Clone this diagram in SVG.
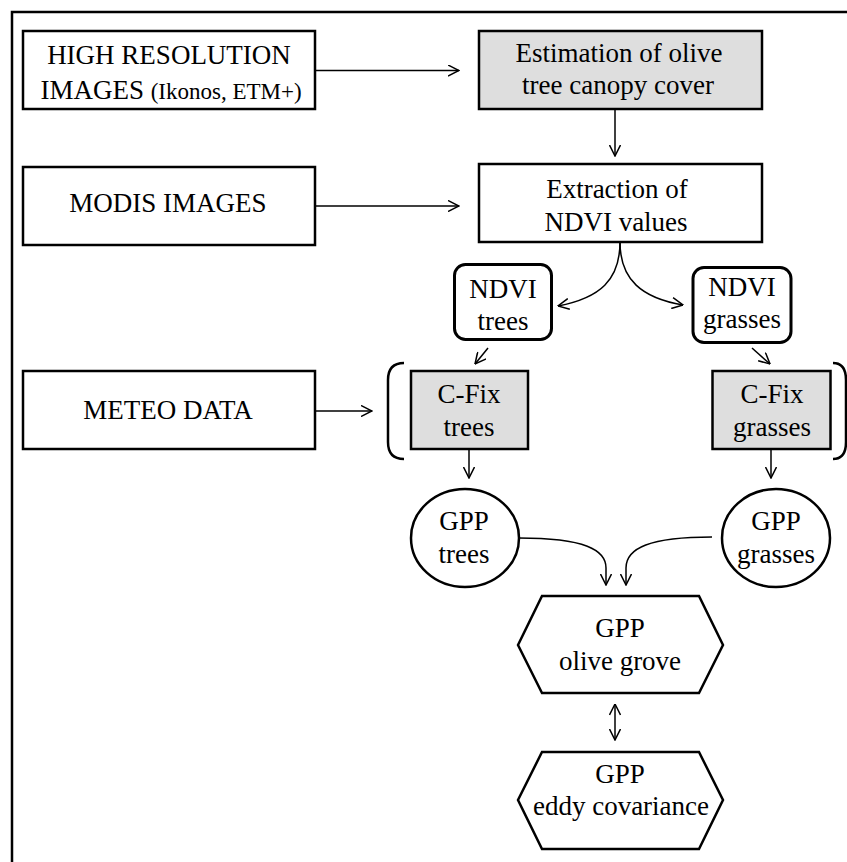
<svg xmlns="http://www.w3.org/2000/svg" width="847" height="862" viewBox="0 0 847 862">
<defs>
<style>
text{font-family:"Liberation Serif","Times New Roman",serif;font-size:27px;fill:#000;text-anchor:middle}
.sm{font-size:23px}
.box{fill:#fff;stroke:#000;stroke-width:2.5}
.gray{fill:#dedede;stroke:#000;stroke-width:2.5}
.rbox{fill:#fff;stroke:#000;stroke-width:3}
.con{fill:none;stroke:#000;stroke-width:1.5}
.br{fill:none;stroke:#000;stroke-width:2.5}
</style>
<marker id="ah" viewBox="0 0 12 12" refX="11.5" refY="6" markerWidth="12" markerHeight="12" markerUnits="userSpaceOnUse" orient="auto-start-reverse">
<path d="M0.5,0.5 L11.5,6 L0.5,11.5" fill="none" stroke="#000" stroke-width="1.5"/>
</marker>
</defs>
<rect width="847" height="862" fill="#fff"/>
<path d="M12,862 V12 H847" fill="none" stroke="#000" stroke-width="2.5"/>

<g id="highres">
<rect class="box" x="23" y="31" width="292" height="78"/>
<text x="169" y="64">HIGH RESOLUTION</text>
<text x="171" y="99">IMAGES <tspan class="sm">(Ikonos, ETM+)</tspan></text>
</g>
<g id="estimation">
<rect class="gray" x="479" y="31" width="283" height="78"/>
<text x="619" y="62">Estimation of olive</text>
<text x="618" y="94">tree canopy cover</text>
</g>
<g id="modis">
<rect class="box" x="23" y="167" width="292" height="78"/>
<text x="168" y="212">MODIS IMAGES</text>
</g>
<g id="extraction">
<rect class="box" x="479" y="164" width="283" height="78"/>
<text x="617" y="198">Extraction of</text>
<text x="616" y="231">NDVI values</text>
</g>
<g id="ndvi-trees">
<rect class="rbox" x="454.5" y="264.5" width="97" height="75" rx="11"/>
<text x="503" y="298">NDVI</text>
<text x="503" y="330">trees</text>
</g>
<g id="ndvi-grasses">
<rect class="rbox" x="693" y="267.5" width="98" height="75" rx="11"/>
<text x="742" y="296">NDVI</text>
<text x="742" y="328">grasses</text>
</g>
<g id="meteo">
<rect class="box" x="23" y="371" width="292" height="78"/>
<text x="168" y="419">METEO DATA</text>
</g>
<g id="cfix-trees">
<rect class="gray" x="411" y="371" width="117" height="78"/>
<text x="469" y="403">C-Fix</text>
<text x="469" y="436">trees</text>
</g>
<g id="cfix-grasses">
<rect class="gray" x="712.5" y="371" width="118" height="78"/>
<text x="772" y="403">C-Fix</text>
<text x="772" y="436">grasses</text>
</g>
<g id="brackets">
<path class="br" d="M404,363 Q388,363 388,380 V442 Q388,459 404,459"/>
<path class="br" d="M833,363 Q846,363 846,380 V442 Q846,459 833,459"/>
</g>
<g id="gpp-trees">
<ellipse cx="465" cy="538" rx="54" ry="49" fill="#fff" stroke="#000" stroke-width="2.5"/>
<text x="464" y="530">GPP</text>
<text x="464" y="563">trees</text>
</g>
<g id="gpp-grasses">
<ellipse cx="776" cy="538" rx="54" ry="49" fill="#fff" stroke="#000" stroke-width="2.5"/>
<text x="776" y="530">GPP</text>
<text x="776" y="563">grasses</text>
</g>
<g id="gpp-olive">
<polygon class="box" points="518,645 542,596 699,596 723,645 699,693 542,693"/>
<text x="620" y="637">GPP</text>
<text x="620" y="670">olive grove</text>
</g>
<g id="gpp-eddy">
<polygon class="box" points="518,800 542,752 699,752 723,800 699,849 542,849"/>
<text x="620" y="783">GPP</text>
<text x="621" y="815">eddy covariance</text>
</g>

<g id="connectors">
<path class="con" d="M315,70.5 H459" marker-end="url(#ah)"/>
<path class="con" d="M315,206 H459" marker-end="url(#ah)"/>
<path class="con" d="M315,411 H372" marker-end="url(#ah)"/>
<path class="con" d="M615,109 V156" marker-end="url(#ah)"/>
<path class="con" d="M620,242 C620,280 600,298 558,306" marker-end="url(#ah)"/>
<path class="con" d="M620,242 C620,280 642,298 683,305" marker-end="url(#ah)"/>
<path class="con" d="M488,348 L475,364" marker-end="url(#ah)"/>
<path class="con" d="M752,348 L770,364" marker-end="url(#ah)"/>
<path class="con" d="M469,449 V478" marker-end="url(#ah)"/>
<path class="con" d="M771,449 V478" marker-end="url(#ah)"/>
<path class="con" d="M519,538 C585,538 606,550 606,568 V585" marker-end="url(#ah)"/>
<path class="con" d="M712,537 C650,537 626,548 626,568 V585" marker-end="url(#ah)"/>
<path class="con" d="M615,704 V740" marker-start="url(#ah)" marker-end="url(#ah)"/>
</g>
</svg>
